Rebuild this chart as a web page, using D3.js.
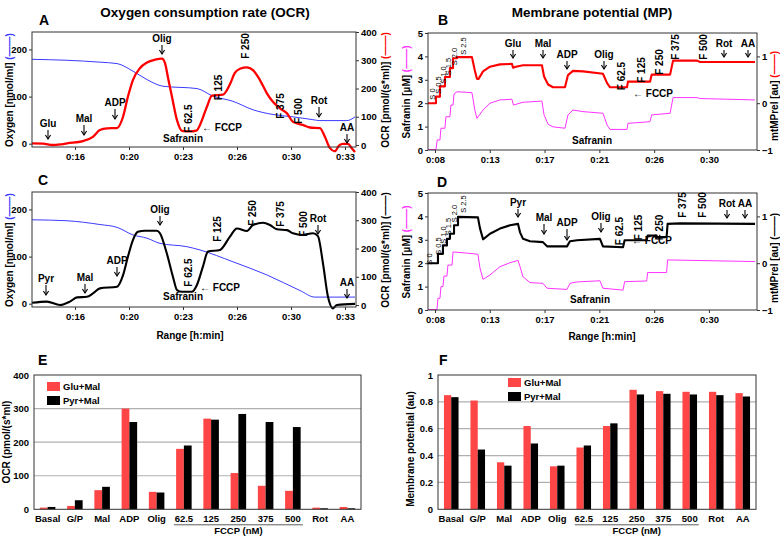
<!DOCTYPE html>
<html><head><meta charset="utf-8">
<script src="https://cdn.jsdelivr.net/npm/d3@7"></script>
<style>
body{margin:0;background:#fff}
text{font-family:"Liberation Sans",Arial,sans-serif;font-weight:bold;fill:#000}
</style></head><body>
<svg id="c" width="780" height="536"></svg>
<script>
// ---------------- DATA ----------------
// OCR panels (A, C): time in minutes
const ocrXTicks = [16.333, 19.667, 23, 26.333, 29.667, 33];
const ocrXLabels = ["0:16","0:20","0:23","0:26","0:30","0:33"];
const o2Ticks = [0, 100, 200];
const ocrTicks = [0, 100, 200, 300, 400];
// MP panels (B, D)
const mpXTicks = [8.2, 12.6, 17.0, 21.4, 25.8, 30.2];
const mpXLabels = ["0:08","0:13","0:17","0:21","0:26","0:30"];
const safTicks = [0,1,2,3,4,5];
const mtTicks = [-1,0,1];

// A: OCR (red, right axis) Glu+Mal
const ocrA = [[13.68,6],[14.36,5],[14.97,0],[15.41,2],[15.84,6],[16.83,14],[17.44,29],[17.87,53],[18.31,59],[18.93,60],
 [19.3,100],[19.6,171],[19.91,230],[20.34,272],[20.78,292],[21.27,302],[21.7,306],[21.89,290],[22.07,240],[22.32,171],
 [22.63,88],[22.94,50],[23.43,48],[23.86,52],[24.05,71],[24.48,136],[24.79,175],[25.47,178],[25.9,215],[26.2,255],
 [26.52,270],[26.95,275],[27.32,265],[27.75,230],[28.18,183],[28.55,153],[28.99,130],[29.42,112],[29.79,82],[30.4,71],
 [30.84,62],[31.45,60],[31.76,29],[32.07,-11],[32.38,-22],[32.63,-2],[32.88,4],[33.18,4],[33.43,-12],[33.62,-25]];
// A: oxygen (blue, left axis)
const o2A = [[13.68,179],[15.84,177],[17.87,173],[18.93,170],[19.91,154],[20.78,136],[21.76,122],[23.86,117],[24.85,101],
 [26.08,90],[27.32,72],[28.55,62],[29.79,57],[31.02,51],[31.45,49],[33.12,49],[33.62,57]];
// C: OCR (black, right axis) Pyr+Mal
const ocrC = [[13.68,8],[14.6,12],[15.41,0],[16.02,12],[16.46,27],[17.07,29],[17.44,41],[17.87,59],[18.93,65],[19.3,106],
 [19.6,171],[19.91,230],[20.22,259],[20.65,263],[21.39,263],[21.58,254],[22.0,183],[22.38,100],[22.63,53],[22.94,47],
 [23.55,47],[23.86,71],[24.23,136],[24.54,189],[25.28,195],[25.9,242],[26.33,271],[26.95,262],[27.32,283],[27.94,291],
 [28.37,283],[28.8,268],[29.42,265],[29.79,254],[30.4,248],[31.02,254],[31.33,244],[31.64,148],[31.95,29],[32.26,-12],
 [32.5,0],[33.62,4]];
const o2C = [[13.68,178],[15.84,176],[17.87,168],[18.93,162],[19.91,146],[20.78,139],[21.58,128],[23.24,121],[24.05,114],
 [26.08,89],[28.18,61],[30.22,28],[31.14,14],[33.62,14]];
// B: mtMPrel (red, right axis) and safranin (magenta, left axis)
const mpB = [[7.64,0],[8.28,0],[8.28,0.14],[8.6,0.14],[8.6,0.36],[9.0,0.36],[9.0,0.56],[9.4,0.56],[9.4,0.75],[9.65,0.75],
 [9.65,0.96],[9.97,0.96],[9.97,0.985],[11.17,0.985],[11.4,0.7],[11.57,0.52],[11.7,0.52],[12.06,0.68],[12.62,0.78],
 [13.42,0.83],[14.38,0.84],[14.47,0.76],[14.7,0.78],[15.27,0.81],[16.79,0.81],[16.96,0.57],[17.28,0.40],[17.68,0.34],
 [18.64,0.34],[18.88,0.6],[19.28,0.69],[20.09,0.68],[21.69,0.63],[22.02,0.43],[22.26,0.34],[23.62,0.34],[23.7,0.46],
 [25.47,0.46],[25.6,0.61],[27.08,0.61],[27.32,0.91],[29.24,0.91],[29.49,0.88],[33.9,0.88]];
const safB = [[7.64,0.02],[8.28,0.02],[8.38,0.43],[8.6,0.43],[8.68,0.93],[9.0,0.93],[9.08,1.42],[9.4,1.42],[9.48,1.92],
 [9.65,1.92],[9.73,2.39],[9.97,2.49],[11.17,2.45],[11.4,1.71],[11.57,1.35],[12.06,1.71],[12.62,2.0],[13.42,2.14],
 [14.38,2.17],[14.5,1.92],[15.27,2.04],[16.79,2.09],[16.96,1.5],[17.28,1.1],[17.68,0.99],[18.64,0.93],[18.88,1.5],
 [19.28,1.71],[20.09,1.64],[21.69,1.57],[22.02,1.07],[22.26,0.88],[23.62,0.88],[23.7,1.14],[25.47,1.21],[25.6,1.5],
 [27.08,1.57],[27.32,2.24],[29.24,2.24],[29.49,2.2],[33.9,2.14]];
// D: mtMPrel (black) and safranin (magenta)
const mpD = [[7.64,0],[8.44,0],[8.44,0.2],[8.84,0.2],[8.84,0.38],[9.16,0.38],[9.16,0.52],[9.4,0.52],[9.4,0.63],[9.73,0.63],
 [9.73,0.81],[10.05,0.81],[10.05,0.99],[11.65,0.98],[11.81,0.75],[12.06,0.51],[12.62,0.63],[13.42,0.74],[14.22,0.81],
 [14.87,0.84],[15.03,0.66],[15.27,0.52],[15.83,0.47],[16.87,0.45],[17.2,0.36],[18.8,0.36],[19.04,0.47],[19.61,0.49],
 [21.45,0.52],[21.69,0.36],[23.3,0.34],[23.43,0.49],[25.2,0.49],[25.28,0.59],[26.0,0.59],[26.0,0.56],[26.8,0.56],
 [26.88,0.84],[27.88,0.85],[33.9,0.84]];
const safD = [[7.64,0.02],[8.36,0.02],[8.44,0.5],[8.6,0.5],[8.68,1.0],[8.84,1.0],[8.92,1.45],[9.16,1.45],[9.24,1.92],
 [9.57,1.92],[9.65,2.48],[11.01,2.42],[11.65,2.38],[11.81,1.8],[12.06,1.31],[12.62,1.5],[13.42,1.85],[14.22,2.02],
 [14.87,2.12],[15.03,1.85],[15.27,1.42],[15.83,1.17],[16.87,1.14],[17.2,0.93],[18.8,0.88],[19.04,1.14],[19.61,1.2],
 [21.45,1.25],[21.69,0.93],[23.3,0.85],[23.43,1.21],[25.2,1.24],[25.28,1.6],[26.8,1.6],[26.88,2.14],[33.9,2.07]];

// Bar panels
const categories = ["Basal","G/P","Mal","ADP","Olig","62.5","125","250","375","500","Rot","AA"];
const seriesNames = ["Glu+Mal","Pyr+Mal"];
const ocrGluMal = [5,10,57,300,52,180,270,108,70,55,5,7];
const ocrPyrMal = [7,27,67,260,50,190,267,284,260,245,3,3];
const mpGluMal = [0.85,0.81,0.35,0.62,0.32,0.46,0.62,0.89,0.88,0.875,0.875,0.865];
const mpPyrMal = [0.835,0.445,0.325,0.49,0.325,0.475,0.64,0.855,0.86,0.855,0.85,0.84];
const ocrBarTicks = [0,100,200,300,400];
const mpBarTicks = [0,0.2,0.4,0.6,0.8,1];

// ---------------- DRAWING ----------------
const svg = d3.select('#c');
svg.append('rect').attr('width',780).attr('height',536).attr('fill','#fff');
const RED = '#ff0000', BLUE = '#3b3bff', MAG = '#ff33ff', BARRED = '#ff4646';

function txt(x,y,s,o={}){
  const t = svg.append('text').attr('x',x).attr('y',y).text(s).attr('font-size',o.size||10);
  if(o.anchor) t.attr('text-anchor',o.anchor);
  if(o.weight) t.style('font-weight',o.weight);
  return t;
}
function rotText(x,yc,s,size,weight){
  const t = svg.append('text').attr('transform',`translate(${x},${yc}) rotate(-90)`)
    .attr('text-anchor','middle').attr('dominant-baseline','central').attr('font-size',size).text(s);
  if(weight) t.style('font-weight',weight);
  return t;
}
function axisTitle(x,yc,label,color){
  const t = svg.append('text').attr('transform',`translate(${x},${yc}) rotate(-90)`)
    .attr('text-anchor','middle').attr('font-size',10);
  t.append('tspan').text(label+' ');
  if(color) t.append('tspan').style('fill',color).text('(\u2014\u2014)');
}
function styleAxis(g,size){
  g.select('.domain').remove();
  g.attr('font-family',null).attr('font-size',null);
  g.selectAll('text').attr('font-size',size);
  g.selectAll('line').attr('stroke','#333');
}
function arrow(x,y1,y2){
  svg.append('line').attr('x1',x).attr('x2',x).attr('y1',y1).attr('y2',y2).attr('stroke','#000').attr('stroke-width',1.1);
  svg.append('path').attr('d',`M${x-2.6},${y2-4}L${x},${y2}L${x+2.6},${y2-4}`).attr('fill','none').attr('stroke','#000').attr('stroke-width',1.1);
}

function linePanel(c){
  const x = d3.scaleLinear().domain(c.xDomain).range([c.L,c.R]);
  const yL = d3.scaleLinear().domain(c.yLDomain).range([c.B,c.T]);
  const yR = d3.scaleLinear().domain(c.yRDomain).range([c.B,c.T]);
  styleAxis(svg.append('g').attr('transform',`translate(0,${c.B})`)
    .call(d3.axisBottom(x).tickValues(c.xTicks).tickFormat((d,i)=>c.xLabels[i]).tickSizeInner(3).tickSizeOuter(0).tickPadding(3)),9.5);
  styleAxis(svg.append('g').attr('transform',`translate(${c.L},0)`)
    .call(d3.axisLeft(yL).tickValues(c.yLTicks).tickFormat(d3.format('d')).tickSizeInner(3).tickSizeOuter(0).tickPadding(2)),9.5);
  styleAxis(svg.append('g').attr('transform',`translate(${c.R},0)`)
    .call(d3.axisRight(yR).tickValues(c.yRTicks).tickFormat(d3.format('d')).tickSizeInner(3).tickSizeOuter(0).tickPadding(2)),9.5);
  c.series.forEach(s=>{
    const y = s.axis==='L'?yL:yR;
    svg.append('path').datum(s.data)
      .attr('d', d3.line().x(d=>x(d[0])).y(d=>y(d[1])).curve(s.smooth?d3.curveMonotoneX:d3.curveLinear))
      .attr('fill','none').attr('stroke',s.color).attr('stroke-width',s.w).attr('stroke-linejoin','round');
  });
  svg.append('rect').attr('x',c.L).attr('y',c.T).attr('width',c.R-c.L).attr('height',c.B-c.T)
    .attr('fill','none').attr('stroke','#333').attr('stroke-width',1);
}

function annotate(arrows, rots, sLabels){
  arrows.forEach(a=>{ txt(a[1],a[2],a[0],{anchor:'middle',size:10}); arrow(a[1],a[2]+3,a[3]-1); });
  rots.forEach(r=>rotText(r[1],r[2],r[0],10));
  (sLabels||[]).forEach(r=>rotText(r[1],r[2],r[0],7.5,'normal'));
}

// Titles
txt(205,17,'Oxygen consumption rate (OCR)',{anchor:'middle',size:13.5});
txt(592,17,'Membrane potential (MP)',{anchor:'middle',size:13.5});
txt(39,25,'A',{size:14}); txt(438,25,'B',{size:14});
txt(38,185,'C',{size:14}); txt(437,187,'D',{size:14});
txt(38,365,'E',{size:14}); txt(439,365,'F',{size:14});

// Panel A
linePanel({L:32,R:356,T:32,B:147,xDomain:[13.68,33.68],yLDomain:[-7,237],yRDomain:[-7,400],
  xTicks:ocrXTicks,xLabels:ocrXLabels,yLTicks:o2Ticks,yRTicks:ocrTicks,
  series:[{data:o2A,axis:'L',color:BLUE,w:1,smooth:true},{data:ocrA,axis:'R',color:RED,w:2.3,smooth:true}]});
axisTitle(13,90,'Oxygen  [nmol/ml]',BLUE);
axisTitle(389,90,'OCR [pmol/(s*ml)]',RED);
annotate([['Glu',48,127,140],['Mal',84,122,136],['ADP',115,106,120],['Olig',162,42,55],['Rot',319,104,118],['AA',347,131,144]],
  [['F 62.5',188,118.5],['F 125',218,87.5],['F 250',245,46],['F 375',280,106],['F 500',298,111]]);
txt(183,142,'Safranin',{anchor:'middle',size:10});
txt(202,131,'\u2190 FCCP',{size:10});

// Panel C
linePanel({L:32,R:356,T:192,B:307,xDomain:[13.68,33.68],yLDomain:[-7,237],yRDomain:[-7,400],
  xTicks:ocrXTicks,xLabels:ocrXLabels,yLTicks:o2Ticks,yRTicks:ocrTicks,
  series:[{data:o2C,axis:'L',color:BLUE,w:1,smooth:true},{data:ocrC,axis:'R',color:'#000',w:2.1,smooth:true}]});
axisTitle(13,250,'Oxygen  [nmol/ml]',BLUE);
axisTitle(389,250,'OCR [pmol/(s*ml)]','#000');
annotate([['Pyr',46,282,296],['Mal',85,281,294],['ADP',117,264,277],['Olig',160,213,226],['Rot',318,222,235],['AA',347,286,299]],
  [['F 62.5',188,272.5],['F 125',217,229],['F 250',252,213],['F 375',280,214],['F 500',303,224]]);
txt(183,300,'Safranin',{anchor:'middle',size:10});
txt(200,291,'\u2190 FCCP',{size:10});
txt(190,339,'Range [h:min]',{anchor:'middle',size:10});

// Panel B
linePanel({L:428,R:757,T:33,B:150,xDomain:[7.64,34.06],yLDomain:[0,5],yRDomain:[-1,1.5],
  xTicks:mpXTicks,xLabels:mpXLabels,yLTicks:safTicks,yRTicks:mtTicks,
  series:[{data:safB,axis:'L',color:MAG,w:1},{data:mpB,axis:'R',color:RED,w:2.1}]});
axisTitle(410,92,'Safranin  [\u00b5M]',MAG);
axisTitle(778,96,'mtMPrel [au] ',RED);
annotate([['Glu',513,47,59],['Mal',543,47,59],['ADP',567,58,70],['Olig',604,58,70],['Rot',724,47,58],['AA',748,47,58]],
  [['F 62.5',621,76],['F 125',641,70],['F 250',659,62],['F 375',675,47],['F 500',703,47]],
  [['S 0',432,94],['S 0.5',438,85],['S 1.0',443,75],['S 1.5',448,66.5],['S 2.0',454,56.5],['S 2.5',463,46]]);
txt(592,144,'Safranin',{anchor:'middle',size:10});
txt(633,97,'\u2190 FCCP',{size:10});

// Panel D
linePanel({L:428,R:757,T:193,B:310,xDomain:[7.64,34.06],yLDomain:[0,5],yRDomain:[-1,1.5],
  xTicks:mpXTicks,xLabels:mpXLabels,yLTicks:safTicks,yRTicks:mtTicks,
  series:[{data:safD,axis:'L',color:MAG,w:1},{data:mpD,axis:'R',color:'#000',w:2.1}]});
axisTitle(410,252,'Safranin  [\u00b5M]',MAG);
axisTitle(778,258,'mtMPrel [au] ','#000');
annotate([['Pyr',518,206,218],['Mal',544,221,235],['ADP',567,226,241],['Olig',601,220,233],['Rot',727,207,219],['AA',745,207,219]],
  [['F 62.5',619,231],['F 125',638,227.5],['F 250',659,227.5],['F 375',682,205],['F 500',702,205]],
  [['S 0',429,259],['S 0.5',438,246],['S 1.0',443,235],['S 1.5',448,226.5],['S 2.0',454,213.5],['S 2.5',463,204]]);
txt(590,303,'Safranin',{anchor:'middle',size:10});
txt(632,244,'\u2190 FCCP',{size:10});
txt(602,340,'Range [h:min]',{anchor:'middle',size:10});

// Bar panels
function barPanel(c){
  const x0 = d3.scaleBand().domain(categories).range([c.L,c.R]).paddingInner(c.pad).paddingOuter(c.pad/2);
  const x1 = d3.scaleBand().domain([0,1]).range([0,x0.bandwidth()]);
  const y = d3.scaleLinear().domain(c.yDomain).range([c.B,c.T]);
  svg.append('g').selectAll('line').data(c.ticks.slice(1,-1)).join('line')
    .attr('x1',c.L).attr('x2',c.R).attr('y1',d=>y(d)).attr('y2',d=>y(d)).attr('stroke','#b0b0b0').attr('stroke-width',1.2);
  [c.a,c.b].forEach((vals,si)=>{
    svg.append('g').selectAll('rect').data(vals).join('rect')
      .attr('x',(d,i)=>x0(categories[i])+x1(si)).attr('width',x1.bandwidth())
      .attr('y',d=>y(d)).attr('height',d=>y(0)-y(d)).attr('fill',si?'#000':BARRED);
  });
  styleAxis(svg.append('g').attr('transform',`translate(${c.L},0)`)
    .call(d3.axisLeft(y).tickValues(c.ticks).tickFormat(c.fmt).tickSize(0).tickPadding(c.tp)),9.5);
  styleAxis(svg.append('g').attr('transform',`translate(0,${c.B})`)
    .call(d3.axisBottom(x0).tickSize(0).tickPadding(6)),9.5);
  svg.append('rect').attr('x',c.L).attr('y',c.T).attr('width',c.R-c.L).attr('height',c.B-c.T)
    .attr('fill','none').attr('stroke','#333').attr('stroke-width',1);
  const u1 = x0('62.5')+x0.bandwidth()/2-c.uw, u2 = x0('500')+x0.bandwidth()/2+c.uw;
  svg.append('line').attr('x1',u1).attr('x2',u2).attr('y1',c.B+15.5).attr('y2',c.B+15.5).attr('stroke','#333').attr('stroke-width',0.8);
  txt((u1+u2)/2,c.B+25,'FCCP (nM)',{anchor:'middle',size:9.5});
  seriesNames.forEach((n,i)=>{
    svg.append('rect').attr('x',c.lx).attr('y',c.ly+i*c.lstep).attr('width',13).attr('height',9).attr('fill',i?'#000':BARRED);
    txt(c.lx+16,c.ly+i*c.lstep+8,n,{size:9.5});
  });
}
barPanel({L:34,R:361,T:375,B:509.3,yDomain:[0,400],ticks:ocrBarTicks,fmt:d3.format('d'),tp:5,a:ocrGluMal,b:ocrPyrMal,
  pad:0.43,uw:10,lx:47,ly:382,lstep:14});
barPanel({L:438,R:756,T:375,B:509.3,yDomain:[0,1],ticks:mpBarTicks,fmt:d=>d===0||d===1?String(d):d3.format('.1f')(d),tp:5,a:mpGluMal,b:mpPyrMal,
  pad:0.45,uw:9,lx:508,ly:378,lstep:14});
axisTitle(10,442,'OCR (pmol/(s*ml)',null);
axisTitle(414,449,'Membrane potential (au)',null);
</script>
</body></html>
